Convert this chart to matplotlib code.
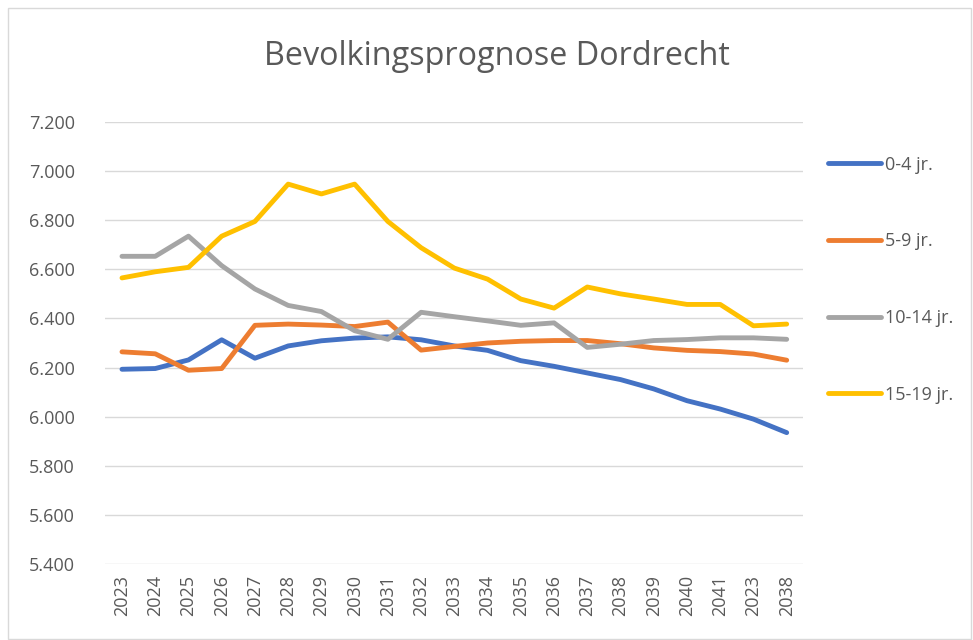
import matplotlib
matplotlib.use("Agg")
import matplotlib.pyplot as plt
from matplotlib.patches import Rectangle
from matplotlib.ticker import FuncFormatter, MultipleLocator

years = ["2023", "2024", "2025", "2026", "2027", "2028", "2029", "2030", "2031", "2032",
         "2033", "2034", "2035", "2036", "2037", "2038", "2039", "2040", "2041", "2023", "2038"]

s_0_4 = [6193, 6196, 6231, 6313, 6238, 6288, 6309, 6320, 6325, 6313,
         6288, 6270, 6228, 6205, 6178, 6151, 6113, 6065, 6031, 5990, 5935]
s_5_9 = [6264, 6256, 6189, 6196, 6372, 6377, 6373, 6367, 6385, 6271,
         6286, 6300, 6307, 6310, 6310, 6297, 6280, 6270, 6265, 6255, 6230]
s_10_14 = [6653, 6653, 6735, 6615, 6520, 6453, 6428, 6350, 6315, 6425,
           6407, 6390, 6372, 6382, 6282, 6295, 6310, 6314, 6321, 6321, 6315]
s_15_19 = [6565, 6590, 6608, 6735, 6795, 6947, 6907, 6947, 6795, 6688,
           6605, 6560, 6479, 6442, 6528, 6500, 6479, 6457, 6457, 6370, 6377]

series = [("0-4 jr.", s_0_4, "#4472C4"),
          ("5-9 jr.", s_5_9, "#ED7D31"),
          ("10-14 jr.", s_10_14, "#A5A5A5"),
          ("15-19 jr.", s_15_19, "#FFC000")]

plt.rcParams['font.family'] = ['Open Sans', 'DejaVu Sans']

fig = plt.figure(figsize=(9.73, 6.40), dpi=100)
fig.patches.append(Rectangle((0.008, 0.002), 0.99, 0.985, transform=fig.transFigure,
                             fill=False, edgecolor="#d9d9d9", linewidth=1))
ax = fig.add_axes([0.1083, 0.11875, 0.7173, 0.69065])

x = list(range(len(years)))
for name, vals, col in series:
    ax.plot(x, vals, color=col, linewidth=3.5, label=name,
            solid_capstyle="round", solid_joinstyle="round")

ax.set_xlim(-0.5, len(years) - 0.5)
ax.set_ylim(5400, 7200)
ax.yaxis.set_major_locator(MultipleLocator(200))
ax.yaxis.set_major_formatter(FuncFormatter(lambda v, p: f"{int(round(v)):,}".replace(",", ".")))
ax.set_xticks(x)
ax.set_xticklabels(years, rotation=90)
ax.grid(axis="y", color="#d9d9d9", linewidth=1)
ax.set_axisbelow(True)
for sp in ax.spines.values():
    sp.set_visible(False)
ax.tick_params(axis="both", length=0, colors="#595959", labelsize=13)
ax.tick_params(axis="y", pad=22)
ax.tick_params(axis="x", pad=8)

fig.text(0.511, 0.912, "Bevolkingsprognose Dordrecht", ha="center", va="center",
         fontsize=23.3, color="#595959")

leg = ax.legend(loc="upper left", bbox_to_anchor=(0.844, 0.768), bbox_transform=fig.transFigure,
                frameon=False, fontsize=13, handlelength=2.9, handletextpad=0.22,
                labelspacing=3.25, borderaxespad=0)
for t in leg.get_texts():
    t.set_color("#595959")

fig.savefig("out.png", dpi=100)
